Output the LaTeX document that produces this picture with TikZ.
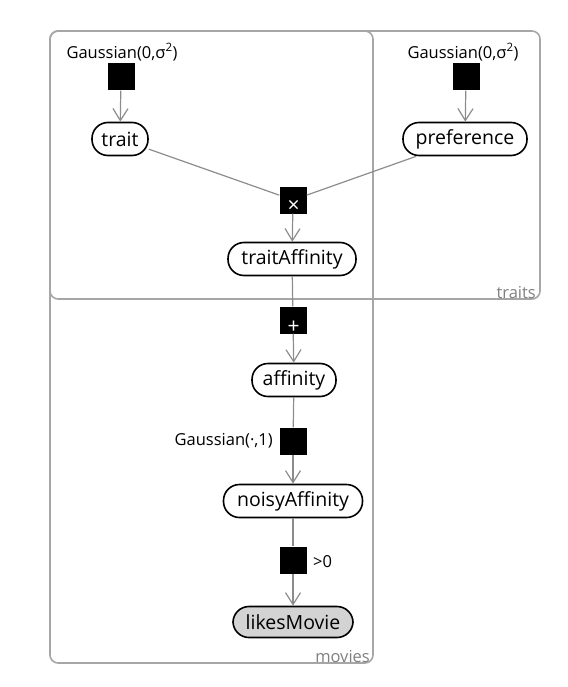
\documentclass[tikz,border=0pt]{standalone}
\usepackage{fontspec}
\setmainfont{Open Sans}
\usetikzlibrary{arrows.meta}
\definecolor{edgegray}{HTML}{8C8C8C}
\definecolor{plategray}{HTML}{A6A6A6}
\definecolor{labelgray}{HTML}{808080}
\definecolor{obsfill}{HTML}{D3D3D3}
\begin{document}
\begin{tikzpicture}[x=1pt,y=-1pt,
  var/.style={draw=black, line width=1.6pt, rounded corners=16pt, minimum height=33pt, inner sep=0pt, font=\fontsize{19.5}{21}\selectfont},
  obs/.style={var, fill=obsfill},
  fac/.style={fill=black, minimum size=27pt, inner sep=0pt},
  edge/.style={draw=edgegray, line width=1.2pt},
  arr/.style={edge, -{Straight Barb[length=12pt,width=15pt]}},
  plate/.style={draw=plategray, line width=1.6pt, rounded corners=8pt},
  platelab/.style={text=labelgray, font=\fontsize{16.5}{18}\selectfont, inner sep=0pt},
  flab/.style={font=\fontsize{16.5}{18}\selectfont, inner sep=0pt},
  sym/.style={text=white, font=\fontsize{21}{21}\selectfont, inner sep=0pt}
]
\useasboundingbox (0,0) rectangle (567,687);
% plates
\draw[plate] (50,31) rectangle (540,299);
\draw[plate] (50,31) rectangle (373,663);
\node[platelab, anchor=base east] (tlab) at (536,298) {traits};
\node[platelab, anchor=base east] (mlab) at (370,662) {movies};
% factors
\node[fac] (f1) at (121,77) {};
\node[flab] (f1l) at (122,52) {Gaussian(0,σ\textsuperscript{2})};
\node[fac] (f2) at (466,77) {};
\node[flab] (f2l) at (463,52) {Gaussian(0,σ\textsuperscript{2})};
\node[fac] (f3) at (293,200) {};
\node[fac] (f4) at (293,320) {};
\node[fac] (f5) at (293,441) {};
\node[flab, anchor=east] (f5l) at (273,441) {Gaussian(·,1)};
\node[fac] (f6) at (293,560) {};
\node[flab, anchor=west] (f6l) at (313,562) {>0};
% variables
\node[var, minimum width=56pt] (trait) at (120,139) {trait};
\node[var, minimum width=124pt] (pref) at (465,139) {preference};
\node[var, minimum width=128pt] (ta) at (292,259) {traitAffinity};
\node[var, minimum width=84pt] (aff) at (294,380) {affinity};
\node[var, minimum width=139pt] (na) at (293,501) {noisyAffinity};
\node[obs, minimum width=120pt, minimum height=31pt] (lm) at (293,622) {likesMovie};
% edges
\draw[arr] (f1) -- (trait);
\draw[arr] (f2) -- (pref);
\draw[edge] (trait) -- (f3);
\draw[edge] (pref) -- (f3);
\draw[arr] (f3) -- (ta);
\draw[edge] (ta) -- (f4);
\draw[arr] (f4) -- (aff);
\draw[edge] (aff) -- (f5);
\draw[arr] (f5) -- (na);
\draw[edge] (na) -- (f6);
\draw[arr] (f6) -- (lm);
% factor symbols
\node[sym] (f3s) at (293.5,206.5) {×};
\node[sym] (f4s) at (293.5,327) {+};
\end{tikzpicture}
\end{document}
